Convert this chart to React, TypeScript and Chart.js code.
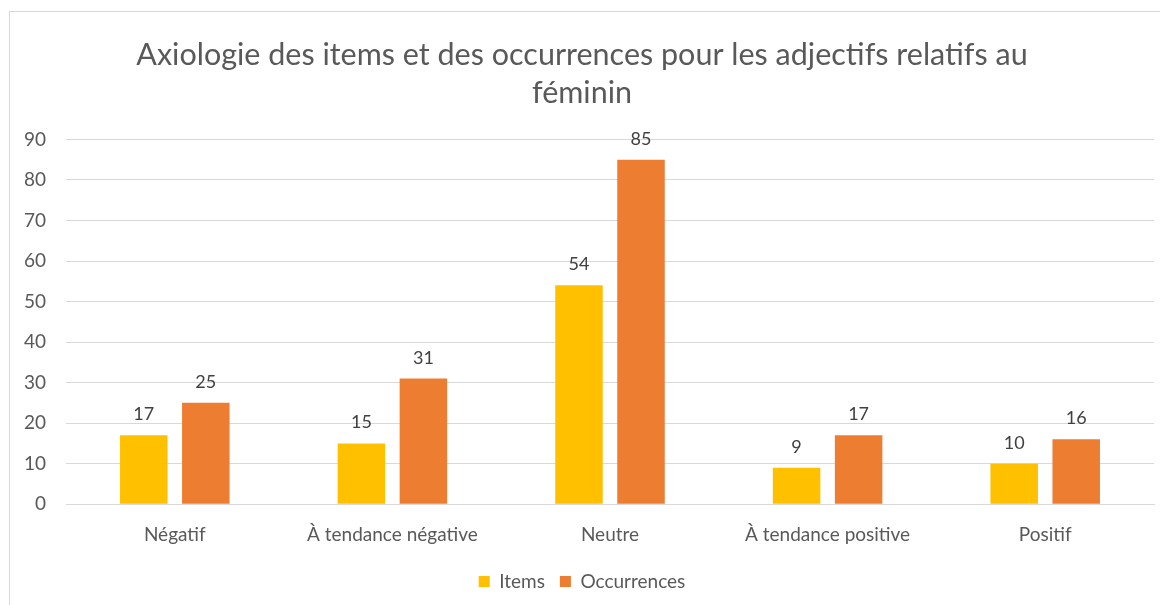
import React, { useEffect, useRef } from "react";
import { Chart, registerables } from "chart.js";

Chart.register(...registerables);

const categories = ["Négatif", "À tendance négative", "Neutre", "À tendance positive", "Positif"];
const itemsValues = [17, 15, 54, 9, 10];
const occurrencesValues = [25, 31, 85, 17, 16];
const seriesNames = ["Items", "Occurrences"];
const titleLines = ["Axiologie des items et des occurrences pour les adjectifs relatifs au", "féminin"];

const FONT = "Lato, 'Open Sans', sans-serif";

const valueLabels = {
  id: "valueLabels",
  afterDatasetsDraw(chart: any) {
    const ctx = chart.ctx;
    ctx.save();
    ctx.font = `18px ${FONT}`;
    ctx.fillStyle = "#404040";
    ctx.textAlign = "center";
    ctx.textBaseline = "alphabetic";
    chart.data.datasets.forEach((ds: any, i: number) => {
      const meta = chart.getDatasetMeta(i);
      meta.data.forEach((bar: any, j: number) => {
        ctx.fillText(String(ds.data[j]), bar.x, bar.y - 15);
      });
    });
    ctx.restore();
  },
};

export default function App() {
  const ref = useRef<HTMLCanvasElement>(null);
  useEffect(() => {
    if (!ref.current) return;
    const chart = new Chart(ref.current, {
      type: "bar",
      data: {
        labels: categories,
        datasets: [
          { label: seriesNames[0], data: itemsValues, backgroundColor: "#FFC000", barPercentage: 0.766, categoryPercentage: 0.57 },
          { label: seriesNames[1], data: occurrencesValues, backgroundColor: "#ED7D31", barPercentage: 0.766, categoryPercentage: 0.57 },
        ],
      },
      options: {
        animation: false,
        responsive: false,
        maintainAspectRatio: false,
        layout: { padding: { left: 0, right: 16, top: 8, bottom: 1 } },
        plugins: {
          title: {
            display: true,
            text: titleLines,
            color: "#595959",
            font: { family: FONT, size: 30.5, weight: "normal" as any, lineHeight: 1.22 },
            padding: { top: 17, bottom: 28 },
          },
          legend: {
            position: "bottom",
            labels: {
              color: "#595959",
              font: { family: FONT, size: 19 },
              boxWidth: 11,
              boxHeight: 11,
              padding: 15,
            },
          },
          tooltip: { enabled: false },
        },
        scales: {
          x: {
            grid: { display: false },
            border: { color: "#d9d9d9" },
            ticks: { color: "#595959", font: { family: FONT, size: 19 }, padding: 11 },
          },
          y: {
            min: 0,
            max: 90,
            afterFit: (scale: any) => { scale.width = 56; },
            ticks: { stepSize: 10, color: "#595959", font: { family: FONT, size: 19 }, padding: 20 },
            grid: { color: "#d9d9d9", drawTicks: false },
            border: { display: false },
          },
        },
      },
      plugins: [valueLabels],
    });
    return () => chart.destroy();
  }, []);
  return (
    <div style={{ marginTop: 3, marginLeft: 1, border: "1px solid #d9d9d9", width: 1170, height: 600, boxSizing: "border-box" }}>
      <canvas ref={ref} width={1160} height={590} />
    </div>
  );
}
